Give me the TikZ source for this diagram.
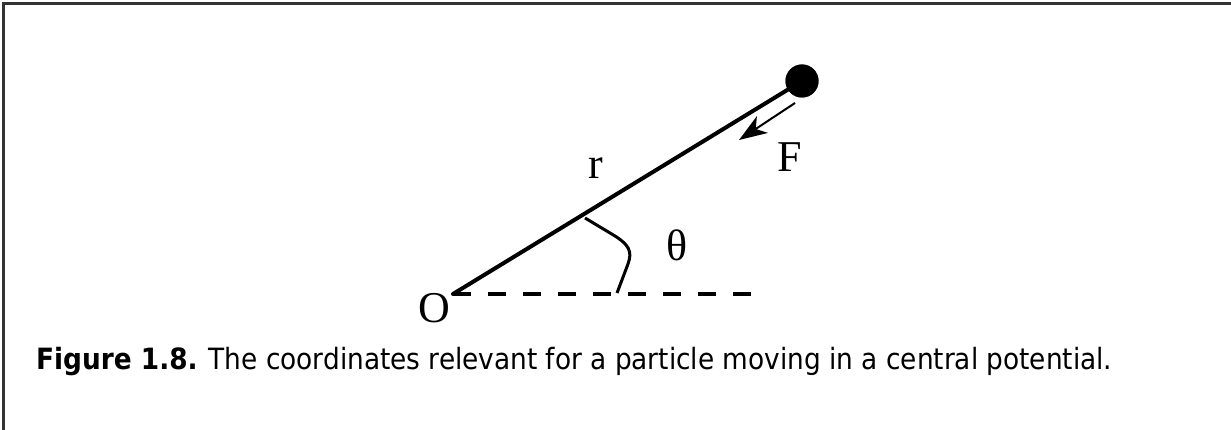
\documentclass[tikz,border=0pt]{standalone}
\usepackage{fontspec}
\setmainfont{Liberation Serif}
\newfontfamily\capfont{DejaVu Sans Condensed}
\usetikzlibrary{arrows.meta}
\begin{document}
\begin{tikzpicture}[x=1pt,y=-1pt,
  lbl/.style={inner sep=0pt,font=\fontsize{44}{48}\selectfont},
  radius line/.style={line width=4pt,line cap=round},
  ref line/.style={line width=3.5pt,dash pattern=on 18pt off 17pt},
  anglemark/.style={line width=3pt},
  force/.style={line width=2pt,-{Stealth[length=28pt,width=20pt,inset=8pt]}},
  frame/.style={line width=2.5pt,draw=black!80}]
\useasboundingbox (0,0) rectangle (1231,430);
\fill[white] (0,0) rectangle (1231,430);
% frame (top and left)
\draw[frame] (1231,3.5) -- (3.5,3.5) -- (3.5,430);
% points
\coordinate (O) at (453,294);
\coordinate (E) at (751,294);
\node[circle,fill=black,inner sep=0pt,minimum size=33pt] (ball) at (802,81) {};
\draw[radius line] (O) -- (ball.center);
\fill (ball) circle (16.5pt);
\draw[ref line] (O) -- (E);
% angle mark
\coordinate (a1) at (585,218);
\coordinate (a2) at (610,233);
\coordinate (a3) at (628,264);
\coordinate (a4) at (617,293);
\draw[anglemark] (a1) -- (a2) .. controls (631,245) and (632,252) .. (a3) -- (a4);
% force arrow
\coordinate (f1) at (795,103);
\coordinate (f2) at (739,140);
\draw[force] (f1) -- (f2);
% labels
\node[lbl] (lO) at (434,308) {O};
\node[lbl] (lr) at (596,168) {r};
\node[lbl] (lt) at (677,245) {θ};
\node[lbl] (lF) at (790,157) {F};
% caption
\node[anchor=base west,inner sep=0pt,font=\capfont\fontsize{29.3}{34}\selectfont] (cap) at (36,369.5)
  {\textbf{Figure 1.8.} The coordinates relevant for a particle moving in a central potential.};
\end{tikzpicture}
\end{document}
